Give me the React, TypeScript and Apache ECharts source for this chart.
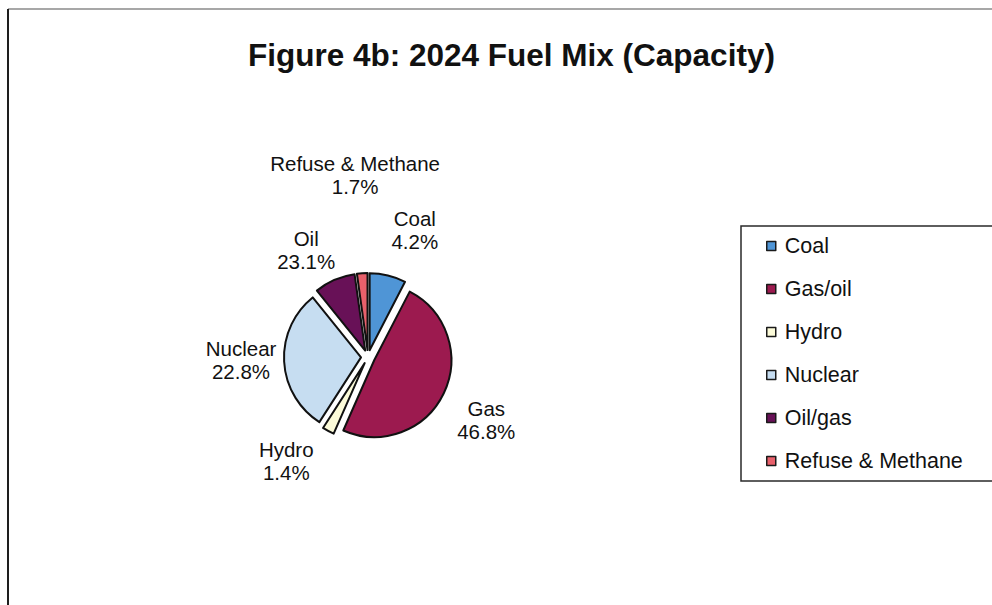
import React, { useEffect, useRef } from "react";
import * as echarts from "echarts";

const TITLE = "Figure 4b: 2024 Fuel Mix (Capacity)";
const CATEGORIES = ["Coal", "Gas/oil", "Hydro", "Nuclear", "Oil/gas", "Refuse & Methane"];
// slice shares as drawn in the picture (percent)
const SHARES = [7.6, 49.0, 2.5, 30.1, 8.6, 2.2];
// data label texts as printed next to the slices
const LABEL_NAMES = ["Coal", "Gas", "Hydro", "Nuclear", "Oil", "Refuse & Methane"];
const LABEL_PERCENTS = ["4.2%", "46.8%", "1.4%", "22.8%", "23.1%", "1.7%"];

const COLORS = ["#4f95d6", "#9c1a4f", "#fcfbd9", "#c6ddf1", "#681157", "#e8606b"];
// label placement: distance from pie centre and angular nudge (degrees)
const LABEL_PLACE = [
  { d: 135, da: 6.6 },
  { d: 134, da: 2.5 },
  { d: 132, da: 10.0 },
  { d: 127, da: 1.7 },
  { d: 124, da: -6.5 },
  { d: 182, da: -0.1 },
];

const CX = 368;
const CY = 357;
const FONT = "'Liberation Sans', Arial, Helvetica, sans-serif";

export default function App() {
  const ref = useRef<HTMLDivElement>(null);
  useEffect(() => {
    if (!ref.current) return;
    const chart = echarts.init(ref.current, undefined, { renderer: "svg" });
    const total = SHARES.reduce((a, b) => a + b, 0);
    const midAngle = (i: number) => {
      let cum = 0;
      for (let j = 0; j < i; j++) cum += SHARES[j];
      return ((cum + SHARES[i] / 2) / total) * 360;
    };
    const common = {
      type: "pie",
      center: [CX, CY],
      radius: 77,
      startAngle: 90,
      clockwise: true,
      avoidLabelOverlap: false,
      emphasis: { disabled: true },
    };
    chart.setOption({
      animation: false,
      backgroundColor: "#ffffff",
      title: {
        text: TITLE,
        left: 248,
        top: 37,
        padding: 0,
        textStyle: {
          fontFamily: FONT,
          fontSize: 31.5,
          fontWeight: "bold",
          color: "#111111",
          lineHeight: 36,
        },
      },
      legend: {
        orient: "vertical",
        left: 741,
        top: 226,
        padding: [9, 80, 9, 25],
        itemWidth: 9,
        itemHeight: 9,
        itemGap: 21,
        backgroundColor: "#ffffff",
        borderColor: "#2a2a2a",
        borderWidth: 1.5,
        borderRadius: 0,
        icon: "rect",
        selectedMode: false,
        data: CATEGORIES,
        itemStyle: { borderColor: "#1a1a1a", borderWidth: 1.5 },
        textStyle: {
          fontFamily: FONT,
          fontSize: 21.5,
          lineHeight: 22,
          color: "#111111",
          padding: [0, 0, 0, 4],
        },
      },
      graphic: [
        {
          type: "line",
          shape: { x1: 8, y1: 9, x2: 992, y2: 9 },
          style: { stroke: "#8a8a8a", lineWidth: 1.5 },
          silent: true,
        },
        {
          type: "line",
          shape: { x1: 8, y1: 9, x2: 8, y2: 605 },
          style: { stroke: "#1e1e1e", lineWidth: 2 },
          silent: true,
        },
      ],
      series: [
        {
          ...common,
          name: "slices",
          selectedMode: "multiple",
          selectedOffset: 7,
          itemStyle: { borderColor: "#111111", borderWidth: 2 },
          select: { itemStyle: { borderColor: "#111111", borderWidth: 2 } },
          label: { show: false },
          labelLine: { show: false },
          data: CATEGORIES.map((name, i) => ({
            name,
            value: SHARES[i],
            selected: true,
            itemStyle: { color: COLORS[i] },
          })),
        },
        {
          ...common,
          name: "labels",
          silent: true,
          selectedMode: false,
          itemStyle: { color: "rgba(0,0,0,0)", borderWidth: 0 },
          label: {
            show: true,
            position: "outside",
            fontFamily: FONT,
            fontSize: 20.5,
            lineHeight: 23,
            color: "#111111",
            formatter: (p: any) =>
              `${LABEL_NAMES[p.dataIndex]}\n${LABEL_PERCENTS[p.dataIndex]}`,
          },
          labelLine: { show: false },
          labelLayout: (p: any) => {
            const i = p.dataIndex;
            const a = ((midAngle(i) + LABEL_PLACE[i].da) * Math.PI) / 180;
            return {
              x: CX + LABEL_PLACE[i].d * Math.sin(a),
              y: CY - LABEL_PLACE[i].d * Math.cos(a),
              align: "center",
              verticalAlign: "middle",
            };
          },
          data: CATEGORIES.map((name, i) => ({ name, value: SHARES[i] })),
        },
      ],
    });
    return () => chart.dispose();
  }, []);
  return (
    <div
      ref={ref}
      style={{ position: "absolute", left: 0, top: 0, width: 992, height: 605 }}
    />
  );
}
